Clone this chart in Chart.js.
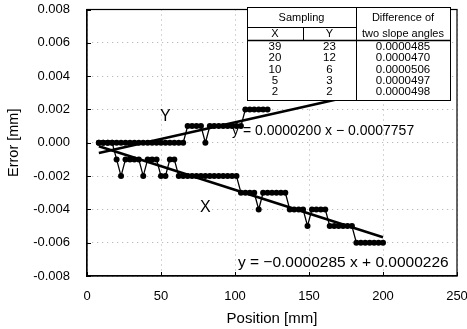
<!DOCTYPE html>
<html><head><meta charset="utf-8">
<script src="https://cdn.jsdelivr.net/npm/chart.js@4/dist/chart.umd.min.js"></script>
<style>html,body{margin:0;padding:0;background:#fff}#wrap{width:467px;height:329px}</style>
</head><body><div id="wrap"><canvas id="c"></canvas></div>
<script>
// ---- data (mm) ----
const posX = [8,11,14,17,20,23,26,29,32,35,38,41,44,47,50,53,56,59,62,65,68,71,74,77,80,83,86,89,92,95,98,101,104,107,110,113,116,119,122,125,128,131,134,137,140,143,146,149,152,155,158,161,164,167,170,173,176,179,182,185,188,191,194,197,200];
const errX = [0,0,0,0,-0.001,-0.002,-0.001,-0.001,-0.001,-0.001,-0.002,-0.001,-0.001,-0.001,-0.002,-0.002,-0.001,-0.001,-0.002,-0.002,-0.002,-0.002,-0.002,-0.002,-0.002,-0.002,-0.002,-0.002,-0.002,-0.002,-0.002,-0.002,-0.003,-0.003,-0.003,-0.003,-0.004,-0.003,-0.003,-0.003,-0.003,-0.003,-0.003,-0.004,-0.004,-0.004,-0.004,-0.005,-0.004,-0.004,-0.004,-0.004,-0.005,-0.005,-0.005,-0.005,-0.005,-0.005,-0.006,-0.006,-0.006,-0.006,-0.006,-0.006,-0.006];
const posY = [8,11,14,17,20,23,26,29,32,35,38,41,44,47,50,53,56,59,62,65,68,71,74,77,80,83,86,89,92,95,98,101,104,107,110,113,116,119,122];
const errY = [0,0,0,0,0,0,0,0,0,0,0,0,0,0,0,0,0,0,0,0,0.001,0.001,0.001,0.001,0,0.001,0.001,0.001,0.001,0.001,0.001,0.001,0.001,0.002,0.002,0.002,0.002,0.002,0.002];
// regression lines (end points, from the printed equations)
const fitPos = [8, 200];
const fitX = [-0.000206, -0.005677];
const fitY = [-0.000616, 0.003224];
const eqX = 'y = \u22120.0000285 x + 0.0000226';
const eqY = 'y = 0.0000200 x \u2212 0.0007757';
// table
const tblHead = ['Sampling', 'X', 'Y', 'Difference of', 'two slope angles'];
const tblSampX = ['39','20','10','5','2'];
const tblSampY = ['23','12','6','3','2'];
const tblDiff = ['0.0000485','0.0000470','0.0000506','0.0000497','0.0000498'];
const xTicks = [0,50,100,150,200,250];
const yTicks = [-0.008,-0.006,-0.004,-0.002,0,0.002,0.004,0.006,0.008];

const FONT = "'Liberation Sans', Arial, sans-serif";
const pts = (xs, ys) => xs.map((x, i) => ({x: x, y: ys[i]}));

const overlay = {
  id: 'overlay',
  afterDatasetsDraw(chart) {
    const {ctx, chartArea: a, scales: {x, y}} = chart;
    ctx.save();
    // frame box
    ctx.strokeStyle = '#000'; ctx.lineWidth = 1.2;
    ctx.strokeRect(a.left, a.top, a.right - a.left, a.bottom - a.top);
    // inward ticks
    ctx.lineWidth = 1;
    ctx.beginPath();
    xTicks.forEach(v => { const px = Math.round(x.getPixelForValue(v)) + 0.5; ctx.moveTo(px, a.bottom); ctx.lineTo(px, a.bottom - 4); });
    yTicks.forEach(v => { const py = Math.round(y.getPixelForValue(v)) + 0.5; ctx.moveTo(a.left, py); ctx.lineTo(a.left + 4, py); });
    ctx.stroke();
    // series labels
    ctx.fillStyle = '#000';
    ctx.font = '16px ' + FONT;
    ctx.textAlign = 'center'; ctx.textBaseline = 'middle';
    ctx.fillText('Y', x.getPixelForValue(53), y.getPixelForValue(0.0016));
    ctx.fillText('X', x.getPixelForValue(80), y.getPixelForValue(-0.0039));
    // equations
    ctx.textAlign = 'left';
    ctx.font = '14px ' + FONT;
    ctx.fillText(eqY, x.getPixelForValue(98), y.getPixelForValue(0.00071));
    ctx.font = '15.5px ' + FONT;
    ctx.fillText(eqX, x.getPixelForValue(102), y.getPixelForValue(-0.00723));
    // table
    const L = 247, R = 450, T = 7, B = 100, c1 = 303, c2 = 356, r1 = 27, r2 = 40;
    ctx.fillStyle = '#fff';
    ctx.fillRect(L, T, R - L, B - T);
    ctx.strokeStyle = '#000'; ctx.lineWidth = 1;
    ctx.strokeRect(L + 0.5, T + 0.5, R - L, B - T);
    ctx.beginPath();
    ctx.moveTo(c2 + 0.5, T); ctx.lineTo(c2 + 0.5, B);
    ctx.moveTo(L, r1 + 0.5); ctx.lineTo(c2, r1 + 0.5);
    ctx.moveTo(c1 + 0.5, r1); ctx.lineTo(c1 + 0.5, r2);
    ctx.stroke();
    ctx.lineWidth = 1.6;
    ctx.beginPath(); ctx.moveTo(L, r2 + 0.5); ctx.lineTo(R, r2 + 0.5); ctx.stroke();
    ctx.fillStyle = '#000';
    ctx.font = '11px ' + FONT; ctx.textAlign = 'center'; ctx.textBaseline = 'middle';
    ctx.fillText(tblHead[0], (L + c2) / 2, 17.5);
    ctx.fillText(tblHead[1], (L + c1) / 2, 34);
    ctx.fillText(tblHead[2], (c1 + c2) / 2, 34);
    ctx.fillText(tblHead[3], (c2 + R) / 2, 18);
    ctx.fillText(tblHead[4], (c2 + R) / 2, 33.5);
    ctx.font = '11.5px ' + FONT;
    tblDiff.forEach((d, i) => {
      const ry = 47 + i * 11.2;
      ctx.fillText(tblSampX[i], (L + c1) / 2, ry);
      ctx.fillText(tblSampY[i], (c1 + c2) / 2, ry);
      ctx.fillText(d, (c2 + R) / 2, ry);
    });
    ctx.restore();
  }
};

new Chart(document.getElementById('c'), {
  type: 'scatter',
  data: {
    datasets: [
      {label: 'X', data: pts(posX, errX), showLine: true, borderColor: '#000', borderWidth: 1.3, pointRadius: 3, pointBackgroundColor: '#000', pointBorderWidth: 0},
      {label: 'Y', data: pts(posY, errY), showLine: true, borderColor: '#000', borderWidth: 1.3, pointRadius: 3, pointBackgroundColor: '#000', pointBorderWidth: 0},
      {label: 'fitX', data: pts(fitPos, fitX), showLine: true, borderColor: '#000', borderWidth: 2.6, pointRadius: 0},
      {label: 'fitY', data: pts(fitPos, fitY), showLine: true, borderColor: '#000', borderWidth: 2.6, pointRadius: 0}
    ]
  },
  options: {
    responsive: true, maintainAspectRatio: false, animation: false,
    layout: {padding: {top: 9.5, right: 10, left: 0, bottom: 0}},
    plugins: {legend: {display: false}, tooltip: {enabled: false}},
    scales: {
      x: {
        type: 'linear', min: 0, max: 250,
        afterFit: s => { s.height = 53; s.paddingLeft = 0; s.paddingRight = 0; },
        afterBuildTicks: s => { s.ticks = xTicks.map(v => ({value: v})); },
        ticks: {color: '#000', font: {family: FONT, size: 13}, padding: 13, maxRotation: 0},
        grid: {color: '#aaa', lineWidth: 1, drawTicks: false, tickLength: 0},
        border: {display: true, color: '#000', width: 1.2, dash: [1, 4]},
        title: {display: true, text: 'Position [mm]', color: '#000', font: {family: FONT, size: 15}, padding: {top: 0, bottom: 1}}
      },
      y: {
        type: 'linear', min: -0.008, max: 0.008,
        afterFit: s => { s.width = 87; s.paddingTop = 0; s.paddingBottom = 0; },
        afterBuildTicks: s => { s.ticks = yTicks.map(v => ({value: v})); },
        ticks: {color: '#000', font: {family: FONT, size: 13}, padding: 17, callback: v => Number(v).toFixed(3)},
        grid: {color: '#aaa', lineWidth: 1, drawTicks: false, tickLength: 0},
        border: {display: true, color: '#000', width: 1.2, dash: [1, 4]},
        title: {display: true, text: 'Error [mm]', color: '#000', font: {family: FONT, size: 14.5}, padding: {top: 5, bottom: 0}}
      }
    }
  },
  plugins: [overlay]
});
</script>
</body></html>
